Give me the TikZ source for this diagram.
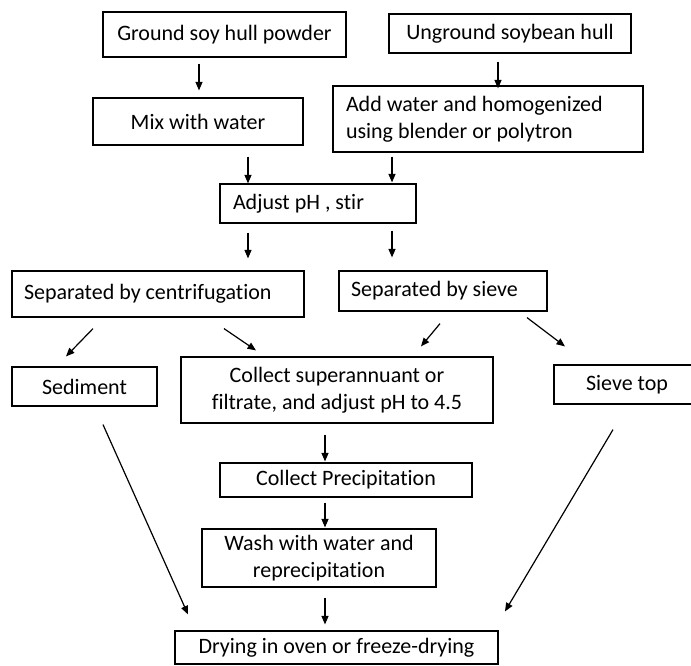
\documentclass[tikz,border=0pt]{standalone}
\usepackage{fontspec}
\setmainfont{Carlito}[Ligatures=NoCommon]
\usetikzlibrary{arrows.meta}
\begin{document}
\begin{tikzpicture}[x=1pt,y=-1pt,
  box/.style={draw=black, line width=1.2pt, inner sep=0pt, font=\fontsize{22}{26.5}\selectfont, align=center},
  lbox/.style={box, align=flush left},
  arr/.style={line width=1.2pt, -{Triangle[length=8.5pt,width=7pt]}}]
\useasboundingbox (0,0) rectangle (691,665);
% boxes
\node[box, minimum width=243, minimum height=45] (b1) at (224.5,34.5) {Ground soy hull powder};
\node[box, minimum width=242, minimum height=39] (b2) at (510,33.5) {Unground soybean hull};
\node[box, minimum width=210, minimum height=47] (b3) at (198,121.5) {Mix with water};
\node[lbox, minimum width=310, minimum height=66, text width=284] (b4) at (488,119) {Add water and homogenized\\using blender or polytron};
\node[lbox, minimum width=196, minimum height=39, text width=170] (b5) at (318,203.5) {Adjust pH , stir};
\node[lbox, minimum width=292, minimum height=46, text width=268] (b6) at (158,294) {Separated by centrifugation};
\node[lbox, minimum width=208, minimum height=40, text width=184] (b7) at (443,291) {Separated by sieve};
\node[box, minimum width=145, minimum height=39] (b8) at (84.5,386.5) {Sediment};
\node[box, minimum width=312, minimum height=66] (b9) at (337,390) {Collect superannuant or\\filtrate, and adjust pH to 4.5};
\node[box, minimum width=146, minimum height=39] (b10) at (627,384.5) {Sieve top};
\node[box, minimum width=252, minimum height=34] (b11) at (346,480) {Collect Precipitation};
\node[box, minimum width=234, minimum height=58] (b12) at (319,558) {Wash with water and\\reprecipitation};
\node[box, minimum width=323, minimum height=33] (b13) at (336.5,647.5) {Drying in oven or freeze-drying};
% arrows
\draw[arr] ([shift={(-25.5,6)}]b1.south) -- ([shift={(1,-7)}]b3.north);
\draw[arr] ([shift={(-12,8)}]b2.south) -- ([shift={(10,3)}]b4.north);
\draw[arr] ([shift={(50,11)}]b3.south) -- ([shift={(-70,0)}]b5.north);
\draw[arr] ([shift={(-96,4)}]b4.south) -- ([shift={(74,-1)}]b5.north);
\draw[arr] ([shift={(-70,9)}]b5.south) -- ([shift={(90,-12)}]b6.north);
\draw[arr] ([shift={(74,7)}]b5.south) -- ([shift={(-51,-13)}]b7.north);
\draw[arr] ([shift={(-65,11)}]b6.south) -- ([shift={(-18.5,-10)}]b8.north);
\draw[arr] ([shift={(66,11)}]b6.south) -- ([shift={(-81,-6)}]b9.north);
\draw[arr] ([shift={(-3,12)}]b7.south) -- ([shift={(84,-10)}]b9.north);
\draw[arr] ([shift={(84,6)}]b7.south) -- ([shift={(-62,-18)}]b10.north);
\draw[arr] ([shift={(-12,11)}]b9.south) -- ([shift={(-21,-1)}]b11.north);
\draw[arr] ([shift={(-21,5)}]b11.south) -- ([shift={(6,-1)}]b12.north);
\draw[arr] ([shift={(6,10)}]b12.south) -- ([shift={(-11.5,-6)}]b13.north);
\draw[arr] ([shift={(18.5,18)}]b8.south) -- ([shift={(-148.5,-16)}]b13.north);
\draw[arr] ([shift={(-14,25)}]b10.south) -- ([shift={(168.5,-19)}]b13.north);
\end{tikzpicture}
\end{document}
